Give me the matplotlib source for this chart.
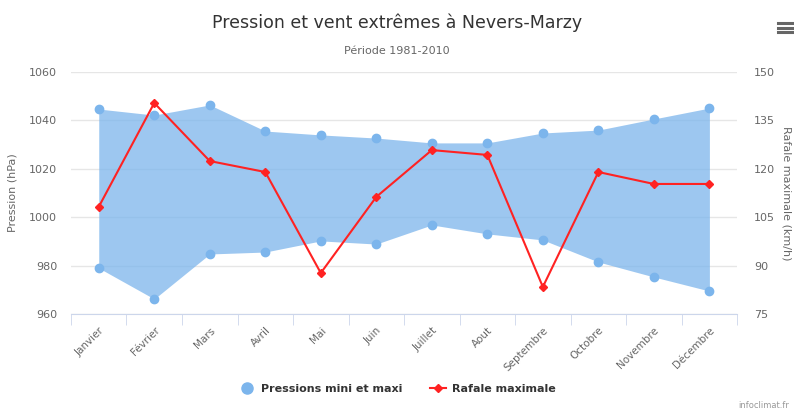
import matplotlib
matplotlib.use("Agg")
import matplotlib.pyplot as plt
import numpy as np
from matplotlib.lines import Line2D

mois = ["Janvier", "Février", "Mars", "Avril", "Mai", "Juin", "Juillet",
        "Aout", "Septembre", "Octobre", "Novembre", "Décembre"]
pression_max = [1044.7, 1042.2, 1046.4, 1035.6, 1034.0, 1032.7, 1030.7,
                1030.7, 1034.8, 1036.0, 1040.6, 1045.1]
pression_min = [979.0, 966.2, 984.8, 985.6, 990.2, 988.9, 996.8,
                993.1, 990.6, 981.5, 975.3, 969.5]
rafale = [108.2, 140.4, 122.4, 119.0, 87.7, 111.3, 125.8,
          124.3, 83.4, 119.0, 115.3, 115.3]

BLEU = "#7cb5ec"
ROUGE = "#f22"
GRIS = "#666666"

plt.rcParams.update({"font.family": "DejaVu Sans"})
fig = plt.figure(figsize=(7.94, 4.15), dpi=100)
ax = fig.add_axes([0.0894, 0.2434, 0.839, 0.5831])
x = np.arange(len(mois))

ax.fill_between(x, pression_min, pression_max, color=BLEU, alpha=0.75,
                linewidth=0, zorder=2)
ax.plot(x, pression_max, "o", color=BLEU, ms=6, zorder=3)
ax.plot(x, pression_min, "o", color=BLEU, ms=6, zorder=3)
ax.set_xlim(-0.5, len(mois) - 0.5)
ax.set_ylim(960, 1060)
ax.set_yticks(np.arange(960, 1061, 20))
ax.grid(axis="y", color="#e6e6e6", linewidth=1, zorder=0)
ax.set_axisbelow(True)
for s in ["top", "right", "left"]:
    ax.spines[s].set_visible(False)
ax.spines["bottom"].set_color("#ccd6eb")
ax.set_xticks(x)
ax.set_xticklabels(mois, rotation=45, ha="right", rotation_mode="anchor",
                   fontsize=7.5, color=GRIS)
ax.set_xticks(np.arange(-0.5, len(mois)), minor=True)
ax.tick_params(axis="x", which="major", length=0, pad=8)
ax.tick_params(axis="x", which="minor", length=8, color="#ccd6eb")
ax.tick_params(axis="y", length=0, labelsize=8, labelcolor=GRIS, pad=10)
ax.set_ylabel("Pression (hPa)", fontsize=8, color=GRIS, labelpad=8)

ax2 = ax.twinx()
ax2.plot(x, rafale, "-D", color=ROUGE, lw=1.5, ms=4, zorder=4)
ax2.set_ylim(75, 150)
ax2.set_yticks(np.arange(75, 151, 15))
for s in ax2.spines.values():
    s.set_visible(False)
ax2.tick_params(axis="y", length=0, labelsize=8, labelcolor=GRIS, pad=12)
ax2.set_ylabel("Rafale maximale (km/h)", fontsize=8, color=GRIS,
               rotation=-90, labelpad=12)

fig.text(0.5, 0.945, "Pression et vent extrêmes à Nevers-Marzy",
         ha="center", va="center", fontsize=12.5, color="#333333")
fig.text(0.5, 0.878, "Période 1981-2010", ha="center", va="center",
         fontsize=8, color=GRIS)
fig.text(0.994, 0.024, "infoclimat.fr", ha="right", va="center",
         fontsize=6, color="#999999")
# icône menu
for dy in (0.922, 0.933, 0.944):
    fig.add_artist(Line2D([0.98, 0.997], [dy, dy], color="#666666", lw=2.2))

handles = [
    Line2D([], [], marker="o", color=BLEU, ls="none", ms=8),
    Line2D([], [], marker="D", color=ROUGE, lw=1.5, ms=4),
]
leg = fig.legend(handles, ["Pressions mini et maxi", "Rafale maximale"],
                 loc="center", bbox_to_anchor=(0.5, 0.063), ncol=2,
                 frameon=False, fontsize=8, handlelength=1.5,
                 columnspacing=2.5, handletextpad=0.5)
for t in leg.get_texts():
    t.set_fontweight("bold")
    t.set_color("#333333")

fig.savefig("out.png", dpi=100)
